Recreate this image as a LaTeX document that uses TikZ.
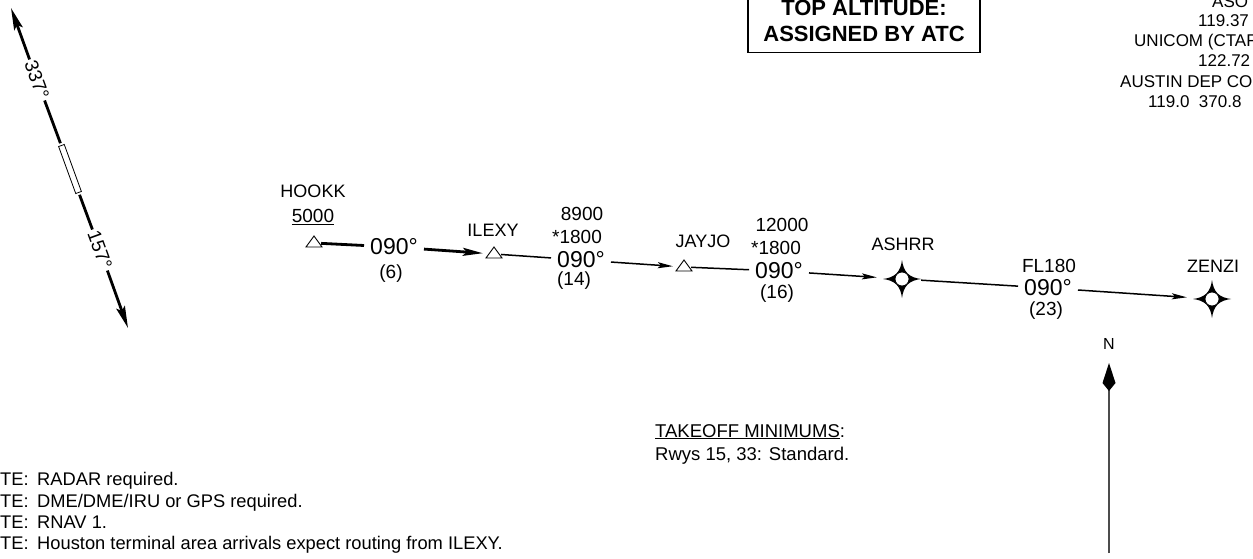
\documentclass[tikz,border=0pt]{standalone}
\usepackage{fontspec}
\setmainfont{Liberation Sans}
\usetikzlibrary{arrows.meta}

\newcommand{\fsz}[1]{\fontsize{#1}{#1}\selectfont}

\begin{document}
\begin{tikzpicture}[x=1pt,y=-1pt,
  fixname/.style={font=\fsz{18},inner sep=0pt},
  altlbl/.style={font=\fsz{19},inner sep=0pt},
  crslbl/.style={font=\fsz{23},inner xsep=6pt,inner ysep=0pt},
  dstlbl/.style={font=\fsz{19},inner sep=0pt},
  fixpt/.style={circle,inner sep=0pt,minimum size=14pt},
  starpt/.style={circle,inner sep=0pt,minimum size=38pt},
  leg/.style={line width=1.5pt},
  thickleg/.style={line width=2.8pt},
  legarrow/.style={-{Stealth[length=15pt,width=6pt,inset=3pt]}},
  thickarrow/.style={-{Stealth[length=20pt,width=8pt,inset=4pt]}},
  rwylbl/.style={font=\fsz{19},rotate=-70,inner sep=2pt},
  note/.style={font=\fsz{18.3},inner sep=0pt,anchor=base west},
  freq/.style={font=\fsz{17},inner sep=0pt,anchor=base west}]
\useasboundingbox (0,0) rectangle (1253,559);

% runway and its bearings
\coordinate (n337) at (11,8);
\coordinate (s157) at (128,328);
\node[rwylbl] (r337) at (37,80) {337°};
\node[draw,rotate=-70,minimum width=50pt,minimum height=6pt,inner sep=0pt,
  outer sep=2.5pt,line width=0.8pt] (rwy) at (70,169) {};
\node[rwylbl] (r157) at (100,250) {157°};
\draw[line width=2.8pt,{Stealth[length=22pt,width=9pt,inset=4pt]}-] (n337) -- (r337);
\draw[line width=2.8pt] (r337) -- (rwy);
\draw[line width=2.8pt] (rwy) -- (r157);
\draw[line width=2.8pt,-{Stealth[length=22pt,width=9pt,inset=4pt]}] (r157) -- (s157);

% top altitude box
\node[draw,line width=1.2pt,anchor=south,minimum width=232pt,inner ysep=11pt,
  align=center,font=\fontsize{22}{25.5}\selectfont\bfseries] (topalt) at (864,53)
  {TOP ALTITUDE:\\ASSIGNED BY ATC};

% frequencies
\node[freq] (fq1) at (1212,7.5) {ASO};
\node[freq] (fq2) at (1198,27) {119.37};
\node[freq] (fq3) at (1134,47) {UNICOM (CTAF};
\node[freq] (fq4) at (1198,67) {122.72};
\node[freq] (fq5) at (1120,88) {AUSTIN DEP CON};
\node[freq] (fq6) at (1148,108) {119.0\ \ 370.8};

% fixes
\node[fixpt] (hookk) at (314,243) {};
\node[fixpt] (ilexy) at (494,254) {};
\node[fixpt] (jayjo) at (684,267) {};
\node[starpt] (ashrr) at (902,279) {};
\node[starpt] (zenzi) at (1212,299) {};

\node[fixname] (hookkname) at (313,191) {HOOKK};
\node[altlbl] (hookkalt) at (313,217) {\underline{5000}};
\node[fixname] (ilexyname) at (493,230) {ILEXY};
\node[fixname] (jayjoname) at (703,241) {JAYJO};
\node[fixname] (ashrrname) at (903,244) {ASHRR};
\node[fixname] (zenziname) at (1213,266) {ZENZI};

% leg labels
\node[crslbl] (crs1) at (394,247) {090°};
\node[dstlbl] (dst1) at (391,274) {(6)};

\node[altlbl] (alt2) at (582,214) {8900};
\node[altlbl] (mea2) at (577,237) {*1800};
\node[crslbl] (crs2) at (581,260) {090°};
\node[dstlbl] (dst2) at (574,281) {(14)};

\node[altlbl] (alt3) at (782,225) {12000};
\node[altlbl] (mea3) at (776,248) {*1800};
\node[crslbl] (crs3) at (779,271) {090°};
\node[dstlbl] (dst3) at (777,294) {(16)};

\node[altlbl] (alt4) at (1049,266) {FL180};
\node[crslbl] (crs4) at (1048,288) {090°};
\node[dstlbl] (dst4) at (1046,311) {(23)};

% legs
\draw[thickleg] (hookk) -- (crs1);
\draw[thickleg,thickarrow,shorten >=4pt] (crs1) -- (ilexy);
\draw[leg] (ilexy) -- (crs2);
\draw[leg,legarrow,shorten >=4pt] (crs2) -- (jayjo);
\draw[leg] (jayjo) -- (crs3);
\draw[leg,legarrow,shorten >=6pt] (crs3) -- (ashrr);
\draw[leg] (ashrr) -- (crs4);
\draw[leg,legarrow,shorten >=6pt] (crs4) -- (zenzi);

% fix symbols
\foreach \f in {hookk,ilexy,jayjo}
  \draw[fill=white,line width=0.9pt] (\f) ++(-8,4) -- ++(16,0) -- ++(-8,-11) -- cycle;
\foreach \f in {ashrr,zenzi}{
  \fill[shift={(\f)}] (0,-19) .. controls (1.5,-7) and (7,-1.5) .. (19,0)
    .. controls (7,1.5) and (1.5,7) .. (0,19)
    .. controls (-1.5,7) and (-7,1.5) .. (-19,0)
    .. controls (-7,-1.5) and (-1.5,-7) .. (0,-19) -- cycle;
  \draw[fill=white,line width=0.8pt,shift={(\f)}] (0,0) circle (7);
}

% north arrow
\node[font=\fsz{16},inner sep=0pt] (nlbl) at (1109,344) {N};
\coordinate (ntip) at (1109,363);
\coordinate (nfoot) at (1109,553);
\draw[line width=1.2pt,black!70,-{Kite[length=28pt,width=13pt,inset=8pt,color=black]}] (nfoot) -- (ntip);

% takeoff minimums
\node[font=\fsz{18.5},inner sep=0pt,anchor=base west] (tkof1) at (655,437) {\underline{TAKEOFF MINIMUMS}:};
\node[font=\fsz{18.5},inner sep=0pt,anchor=base west] (tkof2) at (655,460) {Rwys 15, 33: Standard.};

% notes
\node[note] (note1) at (0,485) {\makebox[37pt][l]{TE:}RADAR required.};
\node[note] (note2) at (0,507) {\makebox[37pt][l]{TE:}DME/DME/IRU or GPS required.};
\node[note] (note3) at (0,528) {\makebox[37pt][l]{TE:}RNAV 1.};
\node[note] (note4) at (0,549) {\makebox[37pt][l]{TE:}Houston terminal area arrivals expect routing from ILEXY.};
\end{tikzpicture}
\end{document}
